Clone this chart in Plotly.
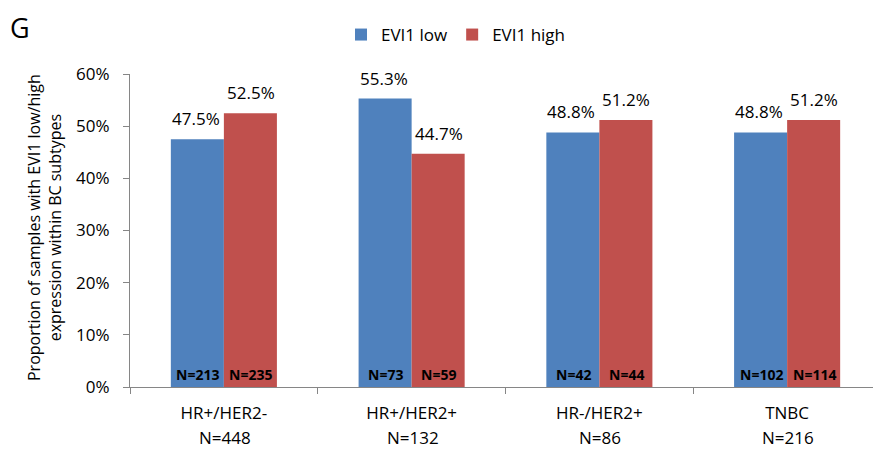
import plotly.graph_objects as go

subtypes = ["HR+/HER2-", "HR+/HER2+", "HR-/HER2+", "TNBC"]
totals = [448, 132, 86, 216]
low_pct = [47.5, 55.3, 48.8, 48.8]
high_pct = [52.5, 44.7, 51.2, 51.2]
low_n = [213, 73, 42, 102]
high_n = [235, 59, 44, 114]

BLUE = "#4F81BD"
RED = "#C0504D"
FONT = "Open Sans, Liberation Sans, Arial, sans-serif"

# page body has an 8px margin; size the figure to fill the 881x450 window
OFF = 8
W, H = 881 - OFF, 450 - OFF
L, R, T, B = 130 - OFF, 0, 74 - OFF, 63
PW, PH = W - L - R, H - T - B

def px_x(x):  # window pixel -> paper
    return (x - OFF - L) / PW

def px_y(y):
    return (H - B - (y - OFF)) / PH

fig = go.Figure()
fig.add_trace(go.Bar(x=subtypes, y=low_pct, name="EVI1 low", marker_color=BLUE,
                     marker_line_width=0))
fig.add_trace(go.Bar(x=subtypes, y=high_pct, name="EVI1 high", marker_color=RED,
                     marker_line_width=0))

annotations = []
for c, pl, ph, nl, nh, tot in zip(subtypes, low_pct, high_pct, low_n, high_n, totals):
    annotations.append(dict(x=c, y=pl, xref="x", yref="y", text=f"{pl:.1f}%",
                            showarrow=False, xshift=-28, yanchor="bottom", yshift=7,
                            font=dict(size=17, color="black", family=FONT)))
    annotations.append(dict(x=c, y=ph, xref="x", yref="y", text=f"{ph:.1f}%",
                            showarrow=False, xshift=27, yanchor="bottom", yshift=7,
                            font=dict(size=17, color="black", family=FONT)))
    annotations.append(dict(x=c, y=0, xref="x", yref="y", text=f"<b>N={nl}</b>",
                            showarrow=False, xshift=-26, yanchor="bottom", yshift=1,
                            font=dict(size=14, color="black", family=FONT)))
    annotations.append(dict(x=c, y=0, xref="x", yref="y", text=f"<b>N={nh}</b>",
                            showarrow=False, xshift=27, yanchor="bottom", yshift=1,
                            font=dict(size=14, color="black", family=FONT)))
    annotations.append(dict(x=c, y=0, xref="x", yref="y", text=f"N={tot}",
                            showarrow=False, xshift=1, yanchor="middle", yshift=-50,
                            font=dict(size=17, color="black", family=FONT)))
annotations.append(dict(x=px_x(9), y=px_y(8), xref="paper", yref="paper", text="G",
                        showarrow=False, xanchor="left", yanchor="top", borderpad=0,
                        font=dict(size=27, color="black", family=FONT)))
annotations.append(dict(x=px_x(45), y=px_y(228), xref="paper", yref="paper",
                        text="Proportion of samples with EVI1 low/high<br>expression within BC subtypes",
                        textangle=-90, showarrow=False, xanchor="center", yanchor="middle",
                        font=dict(size=16, color="black", family=FONT)))

fig.update_layout(
    width=W, height=H,
    margin=dict(l=L, r=R, t=T, b=B, autoexpand=False),
    paper_bgcolor="white", plot_bgcolor="white",
    font=dict(family=FONT, size=17, color="black"),
    barmode="group", bargap=0.435, bargroupgap=0,
    showlegend=True,
    legend=dict(orientation="h", x=(456 - OFF) / W, xanchor="center", xref="container",
                y=1 - (35 - OFF) / H, yanchor="middle", yref="container",
                font=dict(size=17), itemwidth=30, traceorder="normal"),
    annotations=annotations,
    xaxis=dict(
        automargin=False,
        showline=True, linecolor="#868686", linewidth=1,
        ticks="outside", tickson="boundaries", ticklen=6, tickcolor="#868686",
        tickfont=dict(size=17), showgrid=False, ticklabelstandoff=11,
    ),
    yaxis=dict(
        automargin=False,
        range=[0, 60], dtick=10, ticksuffix="%",
        showline=True, linecolor="#868686", linewidth=1,
        ticks="outside", ticklen=6, tickcolor="#868686",
        tickfont=dict(size=17), showgrid=False, zeroline=False,
        ticklabelstandoff=10,
    ),
)

fig.write_html("out.html")
